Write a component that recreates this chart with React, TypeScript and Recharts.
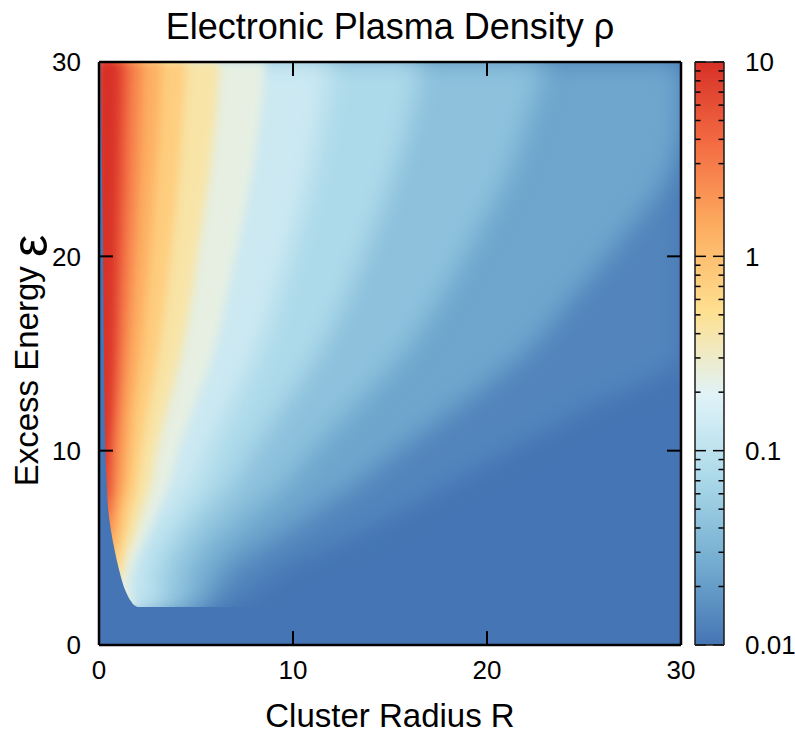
import React from "react";
import { ComposedChart, Area, XAxis, YAxis, CartesianGrid, Label, ReferenceLine } from "recharts";

// RdYlBu palette, linear in log10(rho) from 0.01 to 10
const PALETTE = ["#4575b4", "#74add1", "#abd9e9", "#e0f3f8", "#fee090", "#fdae61", "#f46d43", "#d73027"];

// excess energy rows
const energy = [1.9, 2, 2.25, 2.5, 3, 3.5, 4, 5, 6, 7, 8, 10, 12, 15, 18, 21, 24, 27, 30];
// left edge of the plasma region (cluster radius R) on each row
const edgeR = [2.15, 1.9, 1.65, 1.5, 1.28, 1.13, 1.0, 0.78, 0.6, 0.47, 0.41, 0.33, 0.29, 0.26, 0.23, 0.2, 0.16, 0.12, 0.08];

// contour levels, log10(rho)
const levels = [-2, -1.75, -1.5, -1.25, -1, -0.75, -0.5, -0.25, 0, 0.25, 0.5, 0.75, 1];

// radius R where rho falls below each level, on each energy row (0 = level not reached)
const rM200 = [6.1, 6.4, 7.0, 7.6, 8.3, 9.0, 9.6, 11.8, 13.9, 15.8, 17.6, 21.1, 24.8, 30, 30, 30, 30, 30, 30];
const rM175 = [5.5, 5.6, 5.7, 5.9, 6.2, 6.5, 6.9, 8.3, 9.9, 11.3, 12.8, 15.4, 18.1, 21.9, 24.5, 27.0, 29.2, 30, 30];
const rM150 = [4.9, 4.9, 4.8, 4.8, 4.9, 5.0, 5.2, 5.9, 7.0, 8.1, 9.3, 11.0, 12.9, 15.7, 17.7, 19.4, 21.0, 22.1, 23.0];
const rM125 = [4.0, 3.9, 3.7, 3.6, 3.5, 3.5, 3.7, 4.2, 4.9, 5.8, 6.7, 7.95, 9.3, 11.3, 12.8, 14.0, 15.1, 16.0, 16.6];
const rM100 = [3.0, 2.9, 2.7, 2.5, 2.3, 2.3, 2.4, 2.8, 3.4, 4.1, 4.84, 5.75, 6.7, 8.2, 9.2, 10.1, 10.9, 11.5, 12.0];
const rM075 = [0, 2.0, 1.75, 1.65, 1.55, 1.6, 1.75, 2.15, 2.6, 3.05, 3.5, 4.1, 4.8, 5.9, 6.6, 7.25, 7.85, 8.3, 8.6];
const rM050 = [0, 0, 0, 0, 0, 1.2, 1.25, 1.6, 1.95, 2.25, 2.6, 2.97, 3.47, 4.23, 4.77, 5.2, 5.65, 6.0, 6.2];
const rM025 = [0, 0, 0, 0, 0, 0, 1.05, 1.15, 1.45, 1.65, 1.9, 2.2, 2.52, 3.07, 3.46, 3.8, 4.1, 4.3, 4.5];
const rP000 = [0, 0, 0, 0, 0, 0, 0, 0.85, 1.0, 1.15, 1.4, 1.6, 1.79, 2.19, 2.46, 2.7, 2.9, 3.1, 3.2];
const rP025 = [0, 0, 0, 0, 0, 0, 0, 0, 0.7, 0.8, 1.0, 1.2, 1.32, 1.57, 1.77, 1.94, 2.1, 2.2, 2.3];
const rP050 = [0, 0, 0, 0, 0, 0, 0, 0, 0, 0.55, 0.65, 0.75, 0.93, 1.13, 1.28, 1.41, 1.52, 1.6, 1.67];
const rP075 = [0, 0, 0, 0, 0, 0, 0, 0, 0, 0, 0.45, 0.48, 0.64, 0.8, 0.9, 0.99, 1.07, 1.14, 1.2];
const rP100 = [0, 0, 0, 0, 0, 0, 0, 0, 0, 0, 0, 0.36, 0.45, 0.55, 0.62, 0.69, 0.75, 0.81, 0.86];

const levelEdges = [rM200, rM175, rM150, rM125, rM100, rM075, rM050, rM025, rP000, rP025, rP050, rP075, rP100];

const axisTicks = [0, 10, 20, 30];
const cbMajor = [0.01, 0.1, 1, 10];
const cbMinor = [0.02, 0.03, 0.04, 0.05, 0.06, 0.07, 0.08, 0.09, 0.2, 0.3, 0.4, 0.5, 0.6, 0.7, 0.8, 0.9, 2, 3, 4, 5, 6, 7, 8, 9];

const FONT = '"Liberation Sans", Arial, Helvetica, sans-serif';

// plot box in page pixels
const PLOT = { left: 99, top: 62, right: 681, bottom: 645 };
const CBAR = { left: 695, right: 724 };
const W = 795;
const H = 733;

function hex(h: string) {
  return [1, 3, 5].map((i) => parseInt(h.slice(i, i + 2), 16));
}

function paletteColor(t: number) {
  const x = Math.min(Math.max(t, 0), 1) * (PALETTE.length - 1);
  const i = Math.min(Math.floor(x), PALETTE.length - 2);
  const f = x - i;
  const a = hex(PALETTE[i]);
  const b = hex(PALETTE[i + 1]);
  const c = a.map((v, k) => Math.round(v + (b[k] - v) * f));
  return `rgb(${c[0]},${c[1]},${c[2]})`;
}

const rows = energy.map((E, j) => {
  const row: Record<string, number> = { E, edge: edgeR[j] };
  levelEdges.forEach((edge, i) => {
    row[`lvl${i}`] = edge[j];
  });
  return row;
});

const bandColor = (i: number) =>
  i === levels.length - 1 ? PALETTE[PALETTE.length - 1] : paletteColor((levels[i] + 2 + 0.125) / 3);

const yOfE = (e: number) => PLOT.bottom - ((PLOT.bottom - PLOT.top) * e) / 30;

// tick lengths, converted from pixels into axis units
const TICK = (14 * 30) / (PLOT.bottom - PLOT.top);
const CB_MAJOR = 11 / (CBAR.right - CBAR.left);
const CB_MINOR = 5.5 / (CBAR.right - CBAR.left);

const tickStyle = { fill: "#000", fontSize: 26, fontFamily: FONT };
const border = { stroke: "#000", strokeWidth: 2.5 };
const cbLine = { stroke: "#1a1a1a", strokeWidth: 1.5 };

function YTitle(props: any) {
  const vb = props.viewBox;
  const cx = vb.x - 21;
  const cy = vb.y + vb.height / 2 + 7;
  return (
    <text x={cx} y={cy} transform={`rotate(-90 ${cx} ${cy})`} textAnchor="middle" fontFamily={FONT} fontSize={33} fill="#000">
      Excess Energy{" "}
      <tspan fontSize={50} dy={9}>
        ε
      </tspan>
    </text>
  );
}

function XTitle(props: any) {
  const vb = props.viewBox;
  return (
    <text x={vb.x + vb.width / 2} y={vb.y + 82} textAnchor="middle" fontFamily={FONT} fontSize={33} fill="#000">
      Cluster Radius R
    </text>
  );
}

const layer: React.CSSProperties = { position: "absolute", left: 0, top: 0 };
const axisData = axisTicks.map((v) => ({ v }));
const cbData = cbMajor.map((v) => ({ v }));
const blurHeight = Math.floor(yOfE(energy[0])) - 1 - PLOT.top;

export default function App() {
  return (
    <div style={{ position: "absolute", left: 0, top: 0, width: W, height: H, background: "#fff", fontFamily: FONT }}>
      <div style={{ position: "absolute", left: 0, top: 6, width: 780, textAlign: "center", fontSize: 36, color: "#000" }}>
        Electronic Plasma Density ρ
      </div>

      {/* density map */}
      <div style={layer}>
        <ComposedChart
          layout="vertical"
          width={W}
          height={H}
          data={rows}
          margin={{ top: PLOT.top, right: W - PLOT.right, bottom: H - PLOT.bottom, left: PLOT.left }}
        >
          <defs>
            <filter id="softWide" filterUnits="userSpaceOnUse" x={PLOT.left} y={PLOT.top} width={PLOT.right - PLOT.left} height={blurHeight} colorInterpolationFilters="sRGB">
              <feGaussianBlur stdDeviation={12} edgeMode="duplicate" />
            </filter>
            <filter id="softNarrow" filterUnits="userSpaceOnUse" x={PLOT.left} y={PLOT.top} width={PLOT.right - PLOT.left} height={blurHeight} colorInterpolationFilters="sRGB">
              <feGaussianBlur stdDeviation={5} edgeMode="duplicate" />
            </filter>
          </defs>
          <CartesianGrid horizontal={false} vertical={false} fill={PALETTE[0]} fillOpacity={1} />
          {levels.map((lv, i) => (
            <Area
              key={i}
              type="monotone"
              dataKey={`lvl${i}`}
              baseValue={0}
              stroke="none"
              fill={bandColor(i)}
              fillOpacity={1}
              filter={lv <= -1 ? "url(#softWide)" : "url(#softNarrow)"}
              dot={false}
              activeDot={false}
              isAnimationActive={false}
            />
          ))}
          {/* no plasma left of the edge */}
          <Area
            type="monotone"
            dataKey="edge"
            baseValue={0}
            stroke="none"
            fill={PALETTE[0]}
            fillOpacity={1}
            dot={false}
            activeDot={false}
            isAnimationActive={false}
          />
          <XAxis type="number" domain={[0, 30]} allowDataOverflow hide />
          <YAxis type="number" dataKey="E" domain={[0, 30]} reversed allowDataOverflow hide />
        </ComposedChart>
      </div>

      {/* frame, ticks and axis labels */}
      <div style={layer}>
        <ComposedChart
          width={W}
          height={H}
          data={axisData}
          margin={{ top: PLOT.top - 1, right: W - PLOT.right - 1, bottom: H - PLOT.bottom - 30, left: PLOT.left - 40 }}
        >
          <XAxis
            dataKey="v"
            type="number"
            domain={[0, 30]}
            ticks={axisTicks}
            allowDataOverflow
            height={30}
            tickSize={-13}
            tickMargin={29}
            tick={tickStyle}
            tickLine={false}
            axisLine={border}
          >
            <Label content={XTitle} />
          </XAxis>
          <XAxis xAxisId="top" dataKey="v" orientation="top" type="number" domain={[0, 30]} ticks={axisTicks} allowDataOverflow height={1} tick={false} tickLine={false} axisLine={border} />
          <YAxis
            type="number"
            domain={[0, 30]}
            ticks={axisTicks}
            allowDataOverflow
            width={40}
            tickSize={-13}
            tickMargin={31}
            tick={tickStyle}
            tickLine={false}
            axisLine={border}
          >
            <Label content={YTitle} />
          </YAxis>
          <YAxis yAxisId="right" orientation="right" type="number" domain={[0, 30]} ticks={axisTicks} allowDataOverflow width={1} tick={false} tickLine={false} axisLine={border} />
          {axisTicks.map((t) => (
            <ReferenceLine key={`b${t}`} segment={[{ x: t, y: 0 }, { x: t, y: TICK }]} stroke="#000" strokeWidth={2} />
          ))}
          {axisTicks.map((t) => (
            <ReferenceLine key={`t${t}`} segment={[{ x: t, y: 30 }, { x: t, y: 30 - TICK }]} stroke="#000" strokeWidth={2} />
          ))}
          {axisTicks.map((t) => (
            <ReferenceLine key={`l${t}`} segment={[{ x: 0, y: t }, { x: TICK, y: t }]} stroke="#000" strokeWidth={2} />
          ))}
          {axisTicks.map((t) => (
            <ReferenceLine key={`r${t}`} segment={[{ x: 30, y: t }, { x: 30 - TICK, y: t }]} stroke="#000" strokeWidth={2} />
          ))}
        </ComposedChart>
      </div>

      {/* colour box fill */}
      <div style={layer}>
        <ComposedChart width={W} height={H} data={cbData} margin={{ top: PLOT.top, right: W - CBAR.right, bottom: H - PLOT.bottom, left: CBAR.left }}>
          <defs>
            <linearGradient id="cbGrad" x1="0" y1="1" x2="0" y2="0">
              {PALETTE.map((c, i) => (
                <stop key={i} offset={i / (PALETTE.length - 1)} stopColor={c} />
              ))}
            </linearGradient>
          </defs>
          <CartesianGrid horizontal={false} vertical={false} fill="url(#cbGrad)" fillOpacity={1} />
          <XAxis dataKey="v" type="number" domain={[0, 1]} allowDataOverflow hide />
          <YAxis type="number" scale="log" domain={[0.01, 10]} allowDataOverflow hide />
        </ComposedChart>
      </div>

      {/* colour box frame, labels and ticks */}
      <div style={layer}>
        <ComposedChart
          width={W}
          height={H}
          data={cbData}
          margin={{ top: PLOT.top - 1, right: W - CBAR.right - 1, bottom: H - PLOT.bottom - 1, left: CBAR.left - 1 }}
        >
          <XAxis dataKey="v" type="number" domain={[0, 1]} ticks={[0, 1]} allowDataOverflow height={1} tick={false} tickLine={false} axisLine={cbLine} />
          <XAxis xAxisId="top" dataKey="v" orientation="top" type="number" domain={[0, 1]} ticks={[0, 1]} allowDataOverflow height={1} tick={false} tickLine={false} axisLine={cbLine} />
          <YAxis
            yAxisId="cb"
            orientation="right"
            scale="log"
            type="number"
            domain={[0.01, 10]}
            allowDataOverflow
            ticks={cbMajor}
            interval={0}
            width={1}
            tickSize={-11}
            tickMargin={32}
            tick={tickStyle}
            tickLine={false}
            tickFormatter={(v: number) => String(v)}
            axisLine={cbLine}
          />
          <YAxis yAxisId="cbL" orientation="left" scale="log" type="number" domain={[0.01, 10]} allowDataOverflow ticks={cbMajor} width={1} tick={false} tickLine={false} axisLine={cbLine} />
          {cbMajor.map((v) => (
            <ReferenceLine key={`ml${v}`} yAxisId="cb" segment={[{ x: 0, y: v }, { x: CB_MAJOR, y: v }]} stroke="#000" strokeWidth={1.5} />
          ))}
          {cbMajor.map((v) => (
            <ReferenceLine key={`mr${v}`} yAxisId="cb" segment={[{ x: 1 - CB_MAJOR, y: v }, { x: 1, y: v }]} stroke="#000" strokeWidth={1.5} />
          ))}
          {cbMinor.map((v) => (
            <ReferenceLine key={`nl${v}`} yAxisId="cb" segment={[{ x: 0, y: v }, { x: CB_MINOR, y: v }]} stroke="#000" strokeWidth={1.5} />
          ))}
          {cbMinor.map((v) => (
            <ReferenceLine key={`nr${v}`} yAxisId="cb" segment={[{ x: 1 - CB_MINOR, y: v }, { x: 1, y: v }]} stroke="#000" strokeWidth={1.5} />
          ))}
        </ComposedChart>
      </div>
    </div>
  );
}
